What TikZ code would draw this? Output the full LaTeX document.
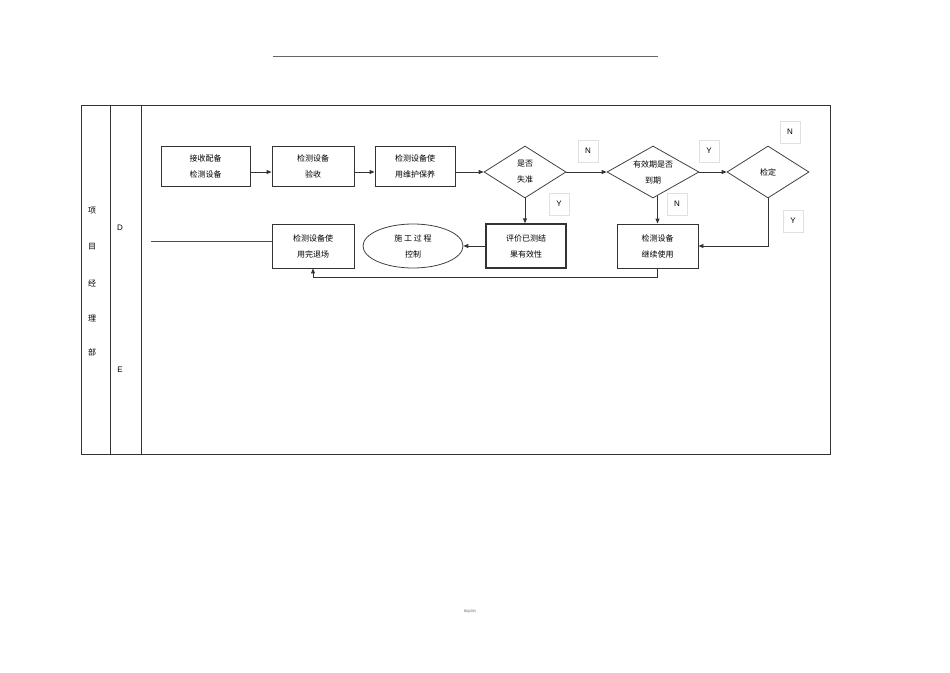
\documentclass[tikz,border=0pt]{standalone}
\usepackage{fontspec}
\setmainfont{Liberation Sans}
\newfontfamily\cjk{Noto Sans CJK SC}
\usetikzlibrary{shapes.geometric,arrows.meta}
\begin{document}
\begin{tikzpicture}[x=1pt,y=-1pt,
  box/.style={draw=black!80,line width=0.9pt,minimum width=#1,minimum height=40pt,align=center,font=\cjk\fontsize{8}{16}\selectfont,inner sep=0pt},
  box/.default=82pt,
  dia/.style={diamond,draw=black!75,line width=0.8pt,aspect=1.55,minimum width=82pt,minimum height=52pt,inner sep=0pt,align=center,font=\cjk\fontsize{8}{16}\selectfont},
  lab/.style={draw=black!12,minimum width=20pt,minimum height=22pt,font=\fontsize{8}{10}\selectfont,inner sep=0pt},
  arr/.style={-{Triangle[length=5pt,width=4pt]},line width=0.9pt,draw=black!80},
  txt/.style={font=\cjk\fontsize{8}{10}\selectfont}]
\useasboundingbox (0,0) rectangle (950,672);
\draw[black!60,line width=0.6pt] (273,56) -- (658,56);
\draw[black!80,line width=0.8pt] (81,105) rectangle (830,454);
\draw[black!80,line width=0.8pt] (110,105) -- (110,454) (141,105) -- (141,454);
\foreach \t/\y in {项/211,目/247,经/283,理/319,部/352} \node[txt] at (92,\y) {\t};
\node[font=\fontsize{8}{10}\selectfont] (D) at (120,228) {D};
\node[font=\fontsize{8}{10}\selectfont] (E) at (120,370) {E};
\node[box=89pt] (b1) at (205.5,166) {接收配备\\检测设备};
\node[box] (b2) at (313,166) {检测设备\\验收};
\node[box=80pt] (b3) at (415,166) {检测设备使\\用维护保养};
\node[dia] (d1) at (525,172) {是否\\失准};
\node[dia,minimum width=92pt] (d2) at (653,172) {有效期是否\\到期};
\node[dia] (d3) at (768,172) {检定};
\node[box,minimum height=44pt] (b4) at (313,246) {检测设备使\\用完退场};
\node[ellipse,draw=black!75,line width=0.8pt,minimum width=100pt,minimum height=44pt,align=center,font=\cjk\fontsize{8}{16}\selectfont,inner sep=0pt] (el) at (413,246) {施\ 工\ 过\ 程\\控制};
\node[box=80pt,minimum height=44pt,line width=1.4pt] (b5) at (526,246) {评价已测结\\果有效性};
\node[box=81pt,minimum height=44pt] (b6) at (657.5,246) {检测设备\\继续使用};
\coordinate (l0) at (151,241);
\draw[black!70,line width=0.7pt] (l0) -- (b4.west|-l0);
\draw[arr] (b1.east|-d1) -- (b2.west|-d1);
\draw[arr] (b2.east|-d1) -- (b3.west|-d1);
\draw[arr] (b3.east|-d1) -- (d1.west);
\draw[arr] (d1) -- (d2);
\draw[arr] (d2) -- (d3);
\draw[arr] (d1.south) -- (b5.north-|d1.south);
\draw[arr] (b6.north) ++(0,-28) -- (b6.north);
\draw[arr] (b5) -- (el);
\draw[arr] (d3.south) |- (b6.east);
\draw[arr,line width=0.7pt] (b6.south) -- ++(0,9) -| (b4.south);
\node[lab] (n1) at (588,151) {N};
\node[lab] (y1) at (559,204) {Y};
\node[lab] (y2) at (709,151) {Y};
\node[lab] (n2) at (677,204) {N};
\node[lab] (n3) at (790,132) {N};
\node[lab] (y3) at (793,221) {Y};
\node[font=\cjk\fontsize{3}{4}\selectfont,text=black!60] (ft) at (470,611) {精品资料};
\end{tikzpicture}
\end{document}
